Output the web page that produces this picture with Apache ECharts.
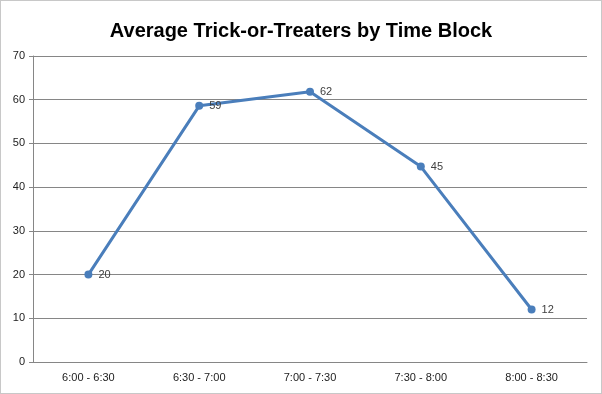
<!DOCTYPE html>
<html><head><meta charset="utf-8">
<script src="https://cdn.jsdelivr.net/npm/echarts@6/dist/echarts.min.js"></script>
<style>
html,body{margin:0;padding:0;background:#fff;}
#c{width:600px;height:392px;border:1px solid #c8c8c8;}
</style></head>
<body><div id="c"></div>
<script>
const categories = ["6:00 - 6:30", "6:30 - 7:00", "7:00 - 7:30", "7:30 - 8:00", "8:00 - 8:30"];
const values = [20, 58.6, 61.8, 44.7, 12];
const yTicks = [0, 10, 20, 30, 40, 50, 60, 70];

const chart = echarts.init(document.getElementById('c'), null, {renderer: 'canvas'});
chart.setOption({
  animation: false,
  backgroundColor: '#fff',
  title: {
    text: 'Average Trick-or-Treaters by Time Block',
    left: 'center', top: 15,
    textStyle: {fontFamily: 'Liberation Sans', fontWeight: 'bold', fontSize: 20, color: '#000'}
  },
  grid: {left: 32, right: 14, top: 55, bottom: 31, containLabel: false},
  xAxis: {
    type: 'category', data: categories, boundaryGap: true,
    axisLine: {lineStyle: {color: '#868686', width: 1}},
    axisTick: {show: false},
    axisLabel: {fontFamily: 'Liberation Sans', fontSize: 11, color: '#222', margin: 10}
  },
  yAxis: {
    type: 'value', min: yTicks[0], max: yTicks[yTicks.length - 1], interval: 10,
    axisLine: {show: true, lineStyle: {color: '#868686'}},
    axisTick: {show: true, length: 4, lineStyle: {color: '#868686'}},
    splitLine: {lineStyle: {color: '#868686', width: 1}},
    axisLabel: {fontFamily: 'Liberation Sans', fontSize: 11, color: '#222', margin: 8}
  },
  series: [{
    type: 'line', data: values,
    symbol: 'circle', symbolSize: 8,
    lineStyle: {color: '#4a7ebb', width: 3},
    itemStyle: {color: '#4a7ebb'},
    label: {
      show: true, position: 'right', distance: 6,
      fontFamily: 'Liberation Sans', fontSize: 11, color: '#404040',
      formatter: p => Math.round(p.value)
    }
  }]
});
</script></body></html>
